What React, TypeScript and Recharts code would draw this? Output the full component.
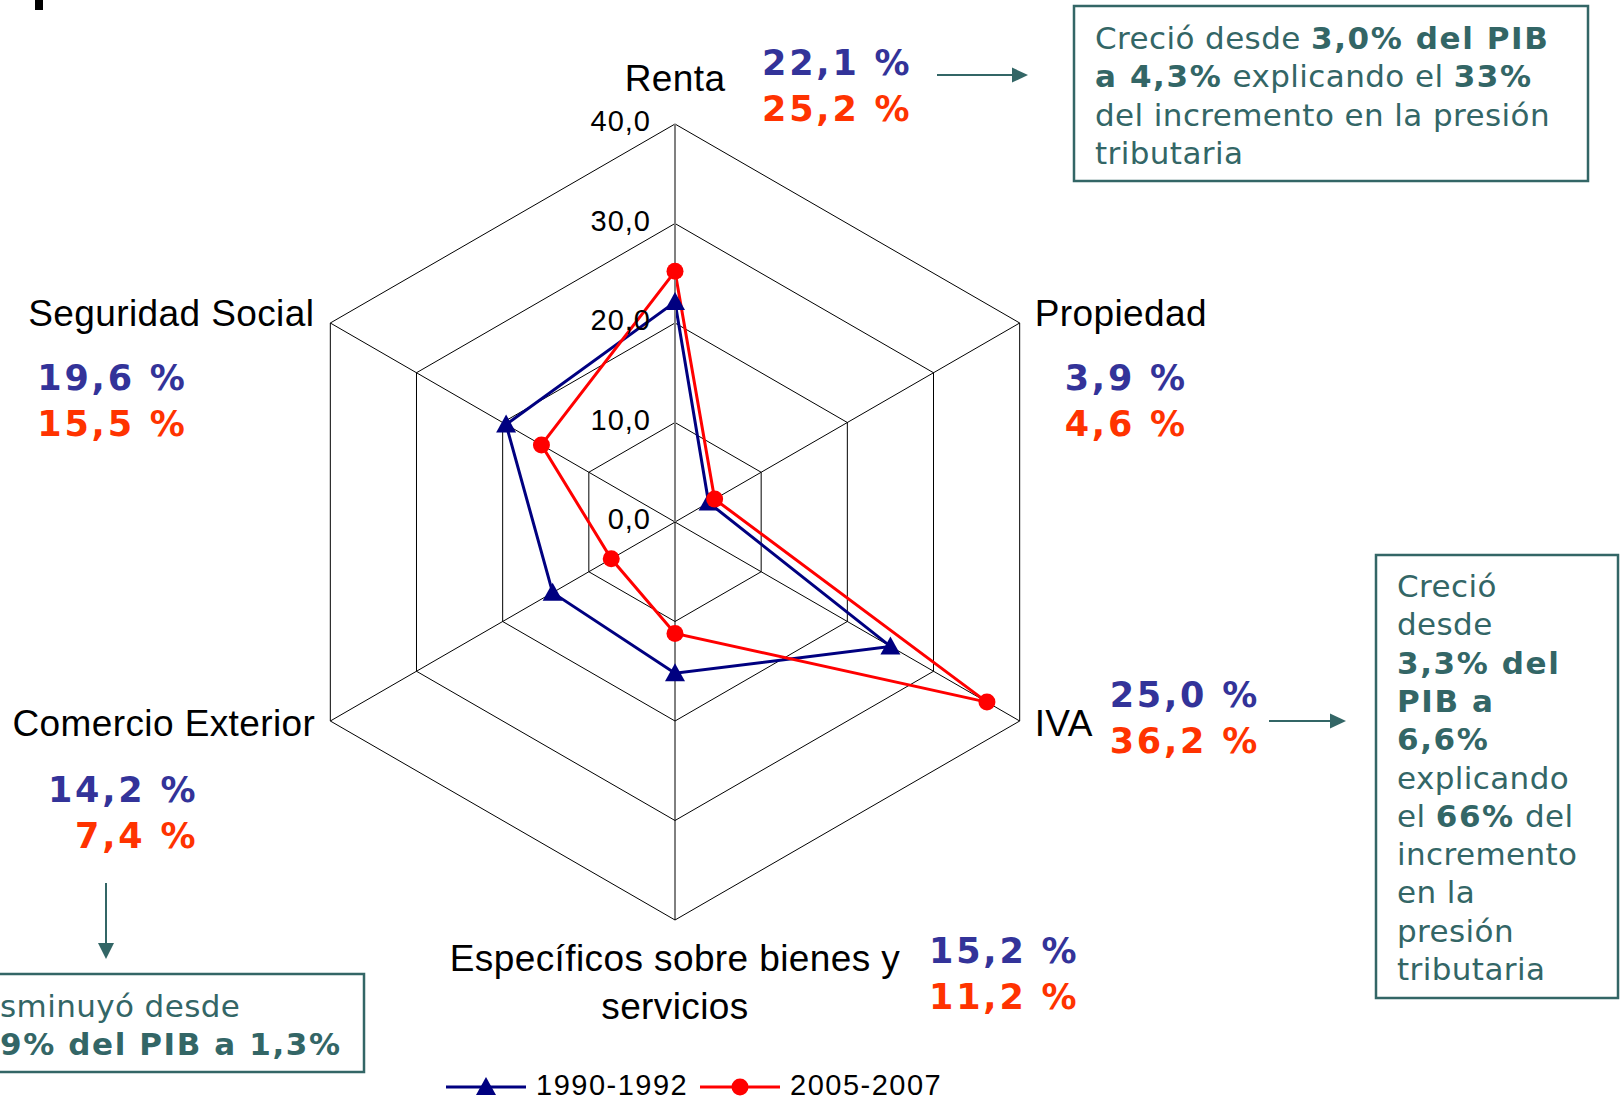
import {
  RadarChart,
  Radar,
  PolarGrid,
  PolarAngleAxis,
  PolarRadiusAxis,
  Legend,
} from 'recharts';

const categorias = [
  'Renta',
  'Propiedad',
  'IVA',
  'Específicos sobre bienes y servicios',
  'Comercio Exterior',
  'Seguridad Social',
];
const serie1990 = [22.1, 3.9, 25.0, 15.2, 14.2, 19.6];
const serie2005 = [25.2, 4.6, 36.2, 11.2, 7.4, 15.5];
const ticksRadio = [0, 10, 20, 30, 40];
const nombresSeries = ['1990-1992', '2005-2007'];

const data = categorias.map((c, i) => ({
  categoria: c,
  p1990: serie1990[i],
  p2005: serie2005[i],
}));

const CX = 675;
const CY = 522;
const R = 398;

const AZUL = '#000080';
const ROJO = '#FF0000';
const AZUL_TXT = '#333399';
const ROJO_TXT = '#FF3300';
const VERDE = '#336666';

const fmt = (v: number) => v.toFixed(1).replace('.', ',');

// posicion de cada etiqueta respecto al vertice exterior
const etiquetas = [
  { lines: ['Renta'], dx: 0, dy: -46, anchor: 'middle', vx: 87, vy: -61, vAnchor: 'start' },
  { lines: ['Propiedad'], dx: 15, dy: -10, anchor: 'start', vx: 45, vy: 55, vAnchor: 'start' },
  { lines: ['IVA'], dx: 15, dy: 2, anchor: 'start', vx: 90, vy: -26, vAnchor: 'start' },
  { lines: ['Específicos sobre bienes y', 'servicios'], dx: 0, dy: 38, anchor: 'middle', vx: 254, vy: 31, vAnchor: 'start' },
  { lines: ['Comercio Exterior'], dx: -15, dy: 2, anchor: 'end', vx: -132, vy: 69, vAnchor: 'end' },
  { lines: ['Seguridad Social'], dx: -16, dy: -10, anchor: 'end', vx: -293, vy: 55, vAnchor: 'start' },
];

const AngleTick = (props: any) => {
  const i = categorias.indexOf(props.payload.value);
  if (i < 0) return null;
  const e = etiquetas[i];
  const ang = ((90 - i * 60) * Math.PI) / 180;
  const vx = CX + R * Math.cos(ang);
  const vy = CY - R * Math.sin(ang);
  return (
    <g>
      {e.lines.map((l, k) => (
        <text
          key={k}
          x={vx + e.dx}
          y={vy + e.dy + k * 48}
          textAnchor={e.anchor as any}
          dominantBaseline="central"
          fontFamily="'Liberation Sans', Arial, sans-serif"
          fontSize={37}
          letterSpacing={0.4}
          fill="#000"
        >
          {l}
        </text>
      ))}
      <text
        x={vx + e.vx}
        y={vy + e.vy}
        textAnchor={e.vAnchor as any}
        dominantBaseline="central"
        fontFamily="'DejaVu Sans', Verdana, sans-serif"
        fontWeight="bold"
        fontSize={35}
        letterSpacing={2.8}
        fill={AZUL_TXT}
      >
        {fmt(serie1990[i]) + ' %'}
      </text>
      <text
        x={vx + e.vx}
        y={vy + e.vy + 45.5}
        textAnchor={e.vAnchor as any}
        dominantBaseline="central"
        fontFamily="'DejaVu Sans', Verdana, sans-serif"
        fontWeight="bold"
        fontSize={35}
        letterSpacing={2.8}
        fill={ROJO_TXT}
      >
        {fmt(serie2005[i]) + ' %'}
      </text>
    </g>
  );
};

const RadiusTick = (props: any) => {
  const { x, y, payload } = props;
  return (
    <text
      x={x - 24}
      y={y - 3}
      textAnchor="end"
      dominantBaseline="central"
      fontFamily="'Liberation Sans', Arial, sans-serif"
      fontSize={29}
      letterSpacing={1}
      fill="#000"
    >
      {fmt(payload.value)}
    </text>
  );
};

const Triangulo = (props: any) => {
  const { cx, cy } = props;
  if (cx == null || cy == null) return null;
  return (
    <polygon
      points={`${cx},${cy - 10} ${cx + 10},${cy + 8} ${cx - 10},${cy + 8}`}
      fill={AZUL}
    />
  );
};

const Circulo = (props: any) => {
  const { cx, cy } = props;
  if (cx == null || cy == null) return null;
  return <circle cx={cx} cy={cy} r={8.5} fill={ROJO} />;
};

const renderLegend = (props: any) => {
  const items = props.payload || [];
  return (
    <svg width={520} height={40} style={{ display: 'block' }}>
      {items.map((it: any, i: number) => {
        const x0 = i === 0 ? 6 : 260;
        const color = i === 0 ? AZUL : ROJO;
        const mx = x0 + 40;
        return (
          <g key={i}>
            <line x1={x0} y1={21} x2={x0 + 80} y2={21} stroke={color} strokeWidth={3} />
            {i === 0 ? (
              <polygon points={`${mx},${11} ${mx + 10},${29} ${mx - 10},${29}`} fill={color} />
            ) : (
              <circle cx={mx} cy={21} r={8.5} fill={color} />
            )}
            <text
              x={x0 + 90}
              y={19}
              dominantBaseline="central"
              fontFamily="'Liberation Sans', Arial, sans-serif"
              fontSize={29}
              letterSpacing={1.5}
              fill="#000"
            >
              {it.value}
            </text>
          </g>
        );
      })}
    </svg>
  );
};

const txt = {
  fontFamily: "'DejaVu Sans', Verdana, sans-serif",
  fontSize: 31,
  fill: VERDE,
};

function Anotaciones() {
  const lh = 38.3;
  const derecha: Array<Array<[string, boolean]>> = [
    [['Creció', false]],
    [['desde', false]],
    [['3,3% del', true]],
    [['PIB a', true]],
    [['6,6%', true]],
    [['explicando', false]],
    [['el ', false], ['66%', true], [' del', false]],
    [['incremento', false]],
    [['en la', false]],
    [['presión', false]],
    [['tributaria', false]],
  ];
  const arriba: Array<Array<[string, boolean]>> = [
    [['Creció desde ', false], ['3,0% del PIB', true]],
    [['a 4,3%', true], [' explicando el ', false], ['33%', true]],
    [['del incremento en la presión', false]],
    [['tributaria', false]],
  ];
  const abajo: Array<Array<[string, boolean]>> = [
    [['sminuyó desde', false]],
    [['9% del PIB a 1,3%', true]],
  ];
  const bloque = (lines: Array<Array<[string, boolean]>>, x: number, y0: number, key: string) =>
    lines.map((ln, k) => (
      <text key={key + k} x={x} y={y0 + k * lh} dominantBaseline="central" {...txt}>
        {ln.map(([s, b], j) => (
          <tspan key={j} fontWeight={b ? 'bold' : 'normal'} letterSpacing={b ? 1.6 : 0.4}>
            {s}
          </tspan>
        ))}
      </text>
    ));
  return (
    <svg
      width={1620}
      height={1100}
      style={{ position: 'absolute', left: 0, top: 0, pointerEvents: 'none' }}
    >
      <rect x={35} y={0} width={8} height={10} fill="#000" />

      <rect x={1074} y={6} width={514} height={175} fill="none" stroke={VERDE} strokeWidth={2.5} />
      {bloque(arriba, 1095, 38, 'a')}
      <line x1={937} y1={75} x2={1014} y2={75} stroke={VERDE} strokeWidth={2} />
      <polygon points="1012,67.5 1028,75 1012,82.5" fill={VERDE} />

      <rect x={1376} y={555} width={242} height={443} fill="none" stroke={VERDE} strokeWidth={2.5} />
      {bloque(derecha, 1397, 586, 'd')}
      <line x1={1269} y1={721} x2={1332} y2={721} stroke={VERDE} strokeWidth={2} />
      <polygon points="1330,713.5 1346,721 1330,728.5" fill={VERDE} />

      <rect x={-10} y={974} width={374} height={98} fill="none" stroke={VERDE} strokeWidth={2.5} />
      {bloque(abajo, 0, 1006, 'b')}
      <line x1={106} y1={883} x2={106} y2={945} stroke={VERDE} strokeWidth={2} />
      <polygon points="98,943 114,943 106,959" fill={VERDE} />
    </svg>
  );
}

export default function App() {
  return (
    <div
      style={{
        position: 'absolute',
        left: 0,
        top: 0,
        width: 1620,
        height: 1100,
        background: '#fff',
        overflow: 'hidden',
      }}
    >
      <RadarChart
        width={1620}
        height={1100}
        data={data}
        cx={CX}
        cy={CY}
        outerRadius={R}
        startAngle={90}
        endAngle={-270}
        margin={{ top: 0, right: 0, bottom: 0, left: 0 }}
      >
        <PolarGrid gridType="polygon" stroke="#000" strokeWidth={1} strokeOpacity={1} />
        <PolarAngleAxis
          dataKey="categoria"
          tick={AngleTick}
          tickLine={false}
          axisLine={false}
        />
        <PolarRadiusAxis
          angle={90}
          domain={[0, 40]}
          ticks={ticksRadio}
          tickCount={5}
          tick={RadiusTick}
          axisLine={{ stroke: '#808080', strokeWidth: 2 }}
        />
        <Radar
          name={nombresSeries[0]}
          dataKey="p1990"
          stroke={AZUL}
          strokeWidth={3}
          fill="none"
          fillOpacity={0}
          dot={Triangulo}
          isAnimationActive={false}
        />
        <Radar
          name={nombresSeries[1]}
          dataKey="p2005"
          stroke={ROJO}
          strokeWidth={3}
          fill="none"
          fillOpacity={0}
          dot={Circulo}
          isAnimationActive={false}
        />
        <Legend
          verticalAlign="bottom"
          content={renderLegend}
          wrapperStyle={{ left: 440, top: 1066, bottom: 'auto', width: 520, height: 40 }}
        />
      </RadarChart>
      <Anotaciones />
    </div>
  );
}
